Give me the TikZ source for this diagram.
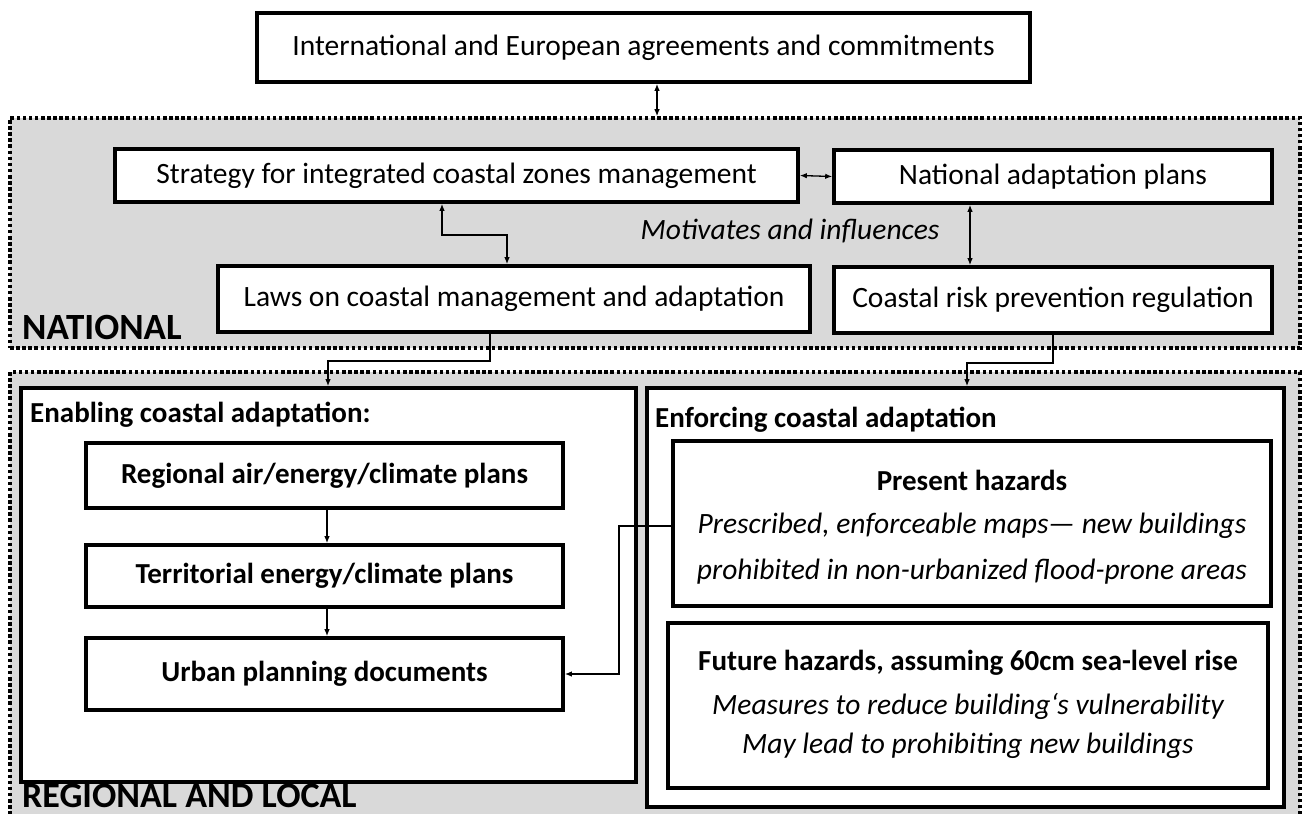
\documentclass[tikz,border=0pt]{standalone}
\usepackage{fontspec}
\setmainfont{Carlito}
\usetikzlibrary{arrows.meta,calc}
\definecolor{regiongray}{RGB}{217,217,217}

\begin{document}
\begin{tikzpicture}[x=1pt,y=-1pt,
  region/.style={draw, fill=regiongray, line width=3.5pt,
    dash pattern=on 3.5pt off 2.6pt, inner sep=0pt},
  box/.style={draw, fill=white, line width=3.6pt, inner sep=0pt},
  txt/.style={font=\fontsize{29.5}{34}\selectfont, inner sep=0pt},
  txtit/.style={font=\fontsize{29.5}{34}\selectfont\itshape, inner sep=0pt},
  txtbf/.style={font=\fontsize{29}{34}\selectfont\bfseries, inner sep=0pt},
  biglabel/.style={font=\fontsize{37}{42}\selectfont\bfseries, inner sep=0pt,
    text depth=0pt, anchor=base west},
  conn/.style={line width=1.3pt, -{Latex[length=7pt,width=5.5pt]}},
  biconn/.style={line width=1.3pt, {Latex[length=7pt,width=5.5pt]}-{Latex[length=7pt,width=5.5pt]}}
]
\useasboundingbox (0,0) rectangle (1305,813);

% the two levels
\node[region, minimum width=1290pt, minimum height=230pt] (national) at (655,233) {};
\node[region, minimum width=1290pt, minimum height=470pt] (regional) at (655,607) {};

% top level
\node[box, minimum width=773pt, minimum height=69pt] (top) at (643.5,47.5) {};
\node[txt] (toptext) at (top.center) {International and European agreements and commitments};

% national level
\node[box, minimum width=683pt, minimum height=53pt] (strategy) at (456.5,175.5) {};
\node[txt] (strategytext) at (strategy.center) {Strategy for integrated coastal zones management};
\node[box, minimum width=438pt, minimum height=53pt] (nap) at (1053,176.5) {};
\node[txt] (naptext) at (nap.center) {National adaptation plans};
\node[box, minimum width=592pt, minimum height=66pt] (laws) at (514,299) {};
\node[txt] (lawstext) at (laws.center) {Laws on coastal management and adaptation};
\node[box, minimum width=438pt, minimum height=66pt] (coastal) at (1053,300) {};
\node[txt] (coastaltext) at (coastal.center) {Coastal risk prevention regulation};
\node[txtit] (motiv) at (790,231) {Motivates and influences};
\node[biglabel] (natlabel) at (22,339) {NATIONAL};

% regional and local level
\node[box, minimum width=615pt, minimum height=394pt] (enabling) at (328.5,585) {};
\node[txtbf, anchor=base west] (enablinghead) at (30,422) {Enabling coastal adaptation:};
\node[box, minimum width=637pt, minimum height=419pt] (enforcing) at (965.5,597.5) {};
\node[txtbf, anchor=base west] (enforcinghead) at (655,427) {Enforcing coastal adaptation};

\node[box, minimum width=477pt, minimum height=65pt] (regair) at (324.5,475.5) {};
\node[txtbf] (regairtext) at (regair.center) {Regional air/energy/climate plans};
\node[box, minimum width=477pt, minimum height=62pt] (territorial) at (324.5,576) {};
\node[txtbf] (territorialtext) at (territorial.center) {Territorial energy/climate plans};
\node[box, minimum width=477pt, minimum height=72pt] (urban) at (324.5,674) {};
\node[txtbf] (urbantext) at (urban.center) {Urban planning documents};

\node[box, minimum width=598pt, minimum height=165pt] (present) at (972,523.5) {};
\node[txtbf] (presenttitle) at (972,480) {Present hazards};
\node[txtit] (presentl1) at (972,526) {Prescribed, enforceable maps— new buildings};
\node[txtit] (presentl2) at (972,572) {prohibited in non-urbanized flood-prone areas};

\node[box, minimum width=600pt, minimum height=165pt] (future) at (968,705.5) {};
\node[txtbf] (futuretitle) at (968,663) {Future hazards, assuming 60cm sea-level rise};
\node[txtit] (futurel1) at (968,706) {Measures to reduce building‘s vulnerability};
\node[txtit] (futurel2) at (968,746) {May lead to prohibiting new buildings};

\node[biglabel, font=\fontsize{36}{40}\selectfont\bfseries] (reglabel) at (22,807) {REGIONAL AND LOCAL};

% connectors
\draw[biconn] (top.south -| 657,0) -- (national.north -| 657,0);
\draw[biconn] (strategy.east) -- (nap.west);
\draw[biconn] (strategy.south -| 442,0) |- (507,235) -- (laws.north -| 507,0);
\draw[biconn] (nap.south -| 970,0) -- (coastal.north -| 970,0);
\draw[conn] (laws.south -| 490,0) |- (328,361) -- (enabling.north -| 328,0);
\draw[conn] (coastal.south -| 1053,0) |- (967,363) -- (enforcing.north -| 967,0);
\draw[conn] (regair.south -| 327,0) -- (territorial.north -| 327,0);
\draw[conn] (territorial.south -| 327,0) -- (urban.north -| 327,0);
\draw[conn] (present.west |- 0,526) -- (619,526) |- (urban.east);
\end{tikzpicture}
\end{document}
